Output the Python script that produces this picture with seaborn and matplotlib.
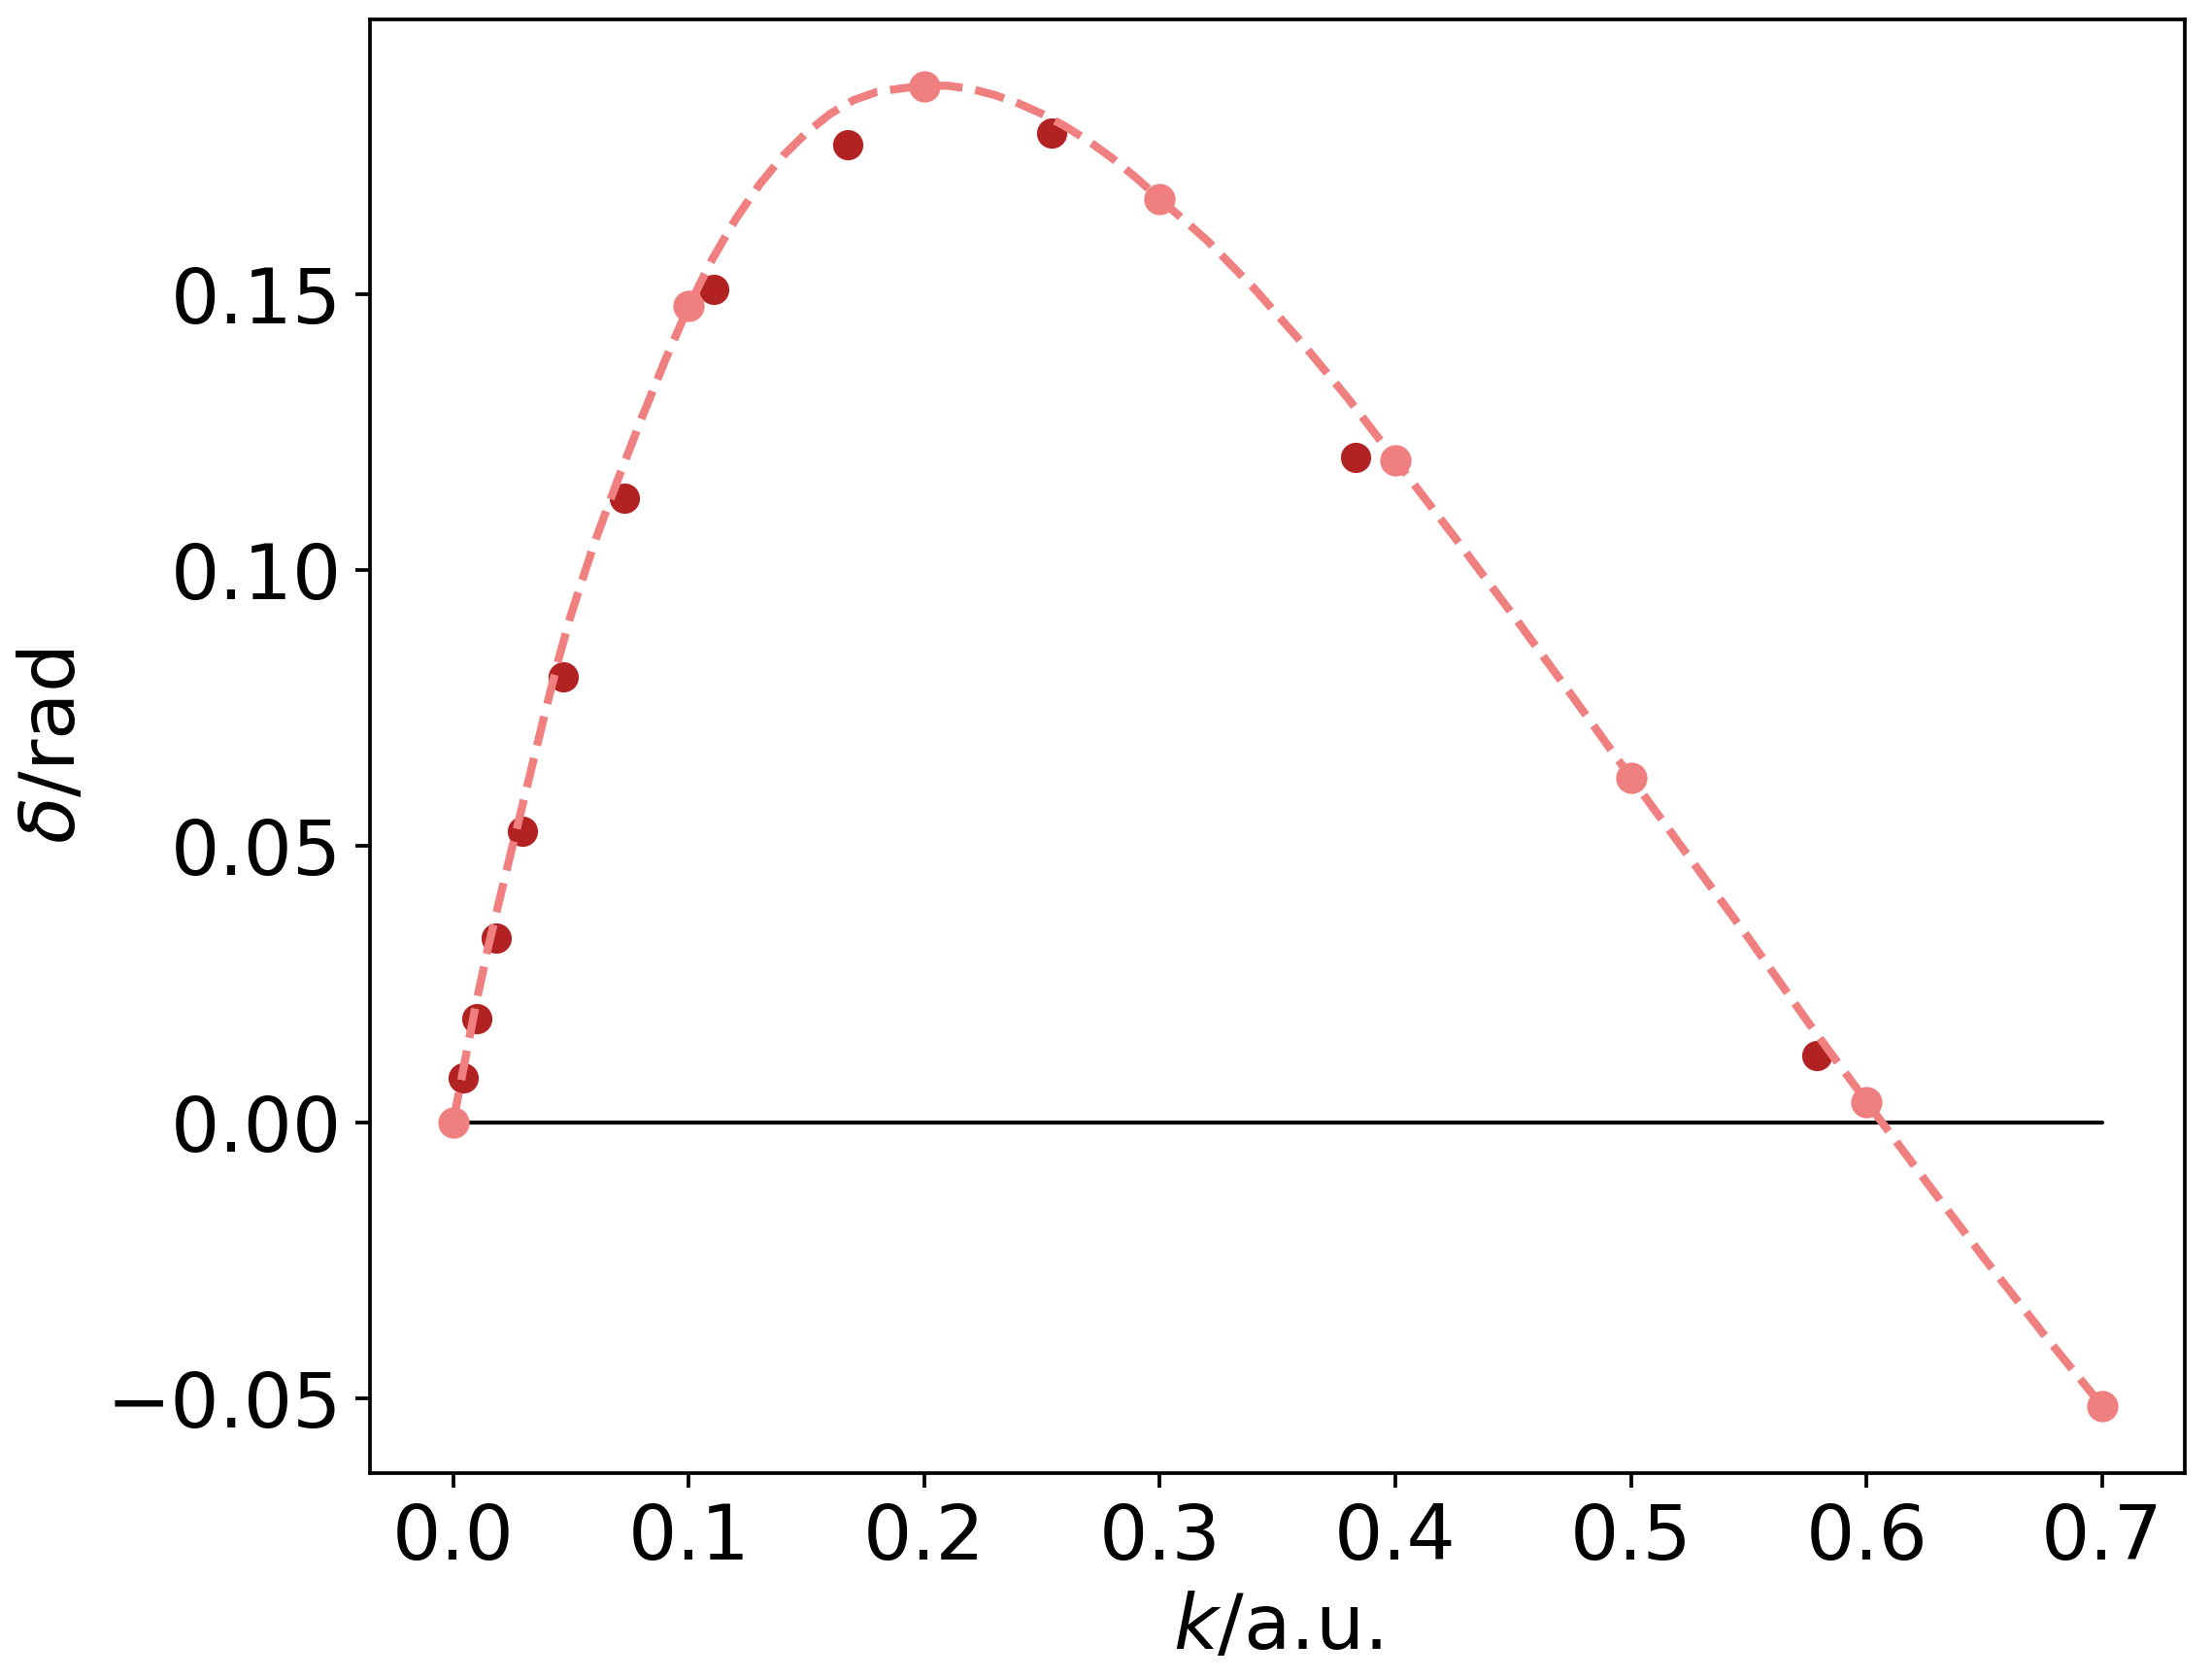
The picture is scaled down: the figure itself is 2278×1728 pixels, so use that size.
import numpy as np
import pandas as pd
import matplotlib
matplotlib.use("Agg")
import matplotlib.pyplot as plt
import seaborn as sns

# Light (reference grid) points
k_light = [0.0, 0.1, 0.2, 0.3, 0.4, 0.5, 0.6, 0.7]
d_light = [0.0, 0.1478, 0.1875, 0.1672, 0.1199, 0.0624, 0.0037, -0.0514]

# Dark (computed) points
k_dark = [0.0044, 0.0101, 0.0181, 0.0295, 0.0468, 0.0728, 0.1106, 0.1676,
          0.2539, 0.3832, 0.5789]
d_dark = [0.0081, 0.0188, 0.0334, 0.0527, 0.0807, 0.1130, 0.1508, 0.1770,
          0.1791, 0.1204, 0.0120]

# Dashed fitted curve
k_fit = [0.000, 0.005, 0.010, 0.015, 0.020, 0.025, 0.030, 0.035, 0.040, 0.045,
         0.050, 0.060, 0.070, 0.080, 0.090, 0.100, 0.110, 0.120, 0.130, 0.140,
         0.150, 0.160, 0.170, 0.180, 0.190, 0.200, 0.210, 0.220, 0.230, 0.240,
         0.250, 0.260, 0.270, 0.280, 0.290, 0.300, 0.320, 0.340, 0.360, 0.380,
         0.400, 0.425, 0.450, 0.475, 0.500, 0.525, 0.550, 0.575, 0.600, 0.625,
         0.650, 0.675, 0.700]
d_fit = [0.0000, 0.0112, 0.0221, 0.0320, 0.0409, 0.0497, 0.0584, 0.0672, 0.0759, 0.0843,
         0.0919, 0.1050, 0.1165, 0.1275, 0.1380, 0.1478, 0.1563, 0.1636, 0.1698, 0.1750,
         0.1792, 0.1826, 0.1851, 0.1866, 0.1872, 0.1877, 0.1877, 0.1871, 0.1860, 0.1845,
         0.1826, 0.1803, 0.1776, 0.1745, 0.1710, 0.1672, 0.1597, 0.1510, 0.1413, 0.1310,
         0.1199, 0.1060, 0.0918, 0.0772, 0.0624, 0.0478, 0.0333, 0.0182, 0.0037, -0.0106,
         -0.0247, -0.0383, -0.0514]

# Zero reference line endpoints
k_zero = [0.0, 0.7]
d_zero = [0.0, 0.0]

sns.set_theme(style="ticks")
plt.rcParams.update({
    "font.family": ["DejaVu Sans"],
    "mathtext.fontset": "dejavusans",
    "axes.edgecolor": "black",
    "axes.labelcolor": "black",
    "text.color": "black",
    "axes.linewidth": 0.9,
    "xtick.color": "black",
    "ytick.color": "black",
    "xtick.major.width": 0.9,
    "ytick.major.width": 0.9,
    "xtick.major.size": 3.5,
    "ytick.major.size": 3.5,
    "xtick.labelsize": 19,
    "ytick.labelsize": 19,
    "axes.labelsize": 19,
    "axes.unicode_minus": True,
})

fig = plt.figure(figsize=(2278 / 300, 1728 / 300), dpi=300)
ax = fig.add_axes([0.1673, 0.1223, 0.9877 - 0.1673, 0.9884 - 0.1223])

df_zero = pd.DataFrame({"k": k_zero, "d": d_zero})
df_dark = pd.DataFrame({"k": k_dark, "d": d_dark})
df_fit = pd.DataFrame({"k": k_fit, "d": d_fit})
df_light = pd.DataFrame({"k": k_light, "d": d_light})

sns.lineplot(data=df_zero, x="k", y="d", color="black", linewidth=1.0, ax=ax,
             zorder=1, estimator=None, sort=False)
sns.scatterplot(data=df_dark, x="k", y="d", color="firebrick", s=56, linewidth=0,
                ax=ax, zorder=2)
sns.lineplot(data=df_fit, x="k", y="d", color="lightcoral", linewidth=2.0,
             linestyle="--", ax=ax, zorder=3, estimator=None, sort=False)
sns.scatterplot(data=df_light, x="k", y="d", color="lightcoral", s=60, linewidth=0,
                ax=ax, zorder=4)

ax.set_xticks([0.0, 0.1, 0.2, 0.3, 0.4, 0.5, 0.6, 0.7])
ax.set_yticks([-0.05, 0.0, 0.05, 0.10, 0.15])
ax.set_xticklabels(["0.0", "0.1", "0.2", "0.3", "0.4", "0.5", "0.6", "0.7"])
ax.set_yticklabels(["\u22120.05", "0.00", "0.05", "0.10", "0.15"])
ax.set_xlim(-0.0353, 0.7351)
ax.set_ylim(-0.0635, 0.1997)
ax.set_xlabel(r"$k$/a.u.", color="black")
ax.set_ylabel(r"$\delta$/rad", color="black")
for s in ax.spines.values():
    s.set_visible(True)
    s.set_color("black")

fig.savefig("out.png", dpi=300)
